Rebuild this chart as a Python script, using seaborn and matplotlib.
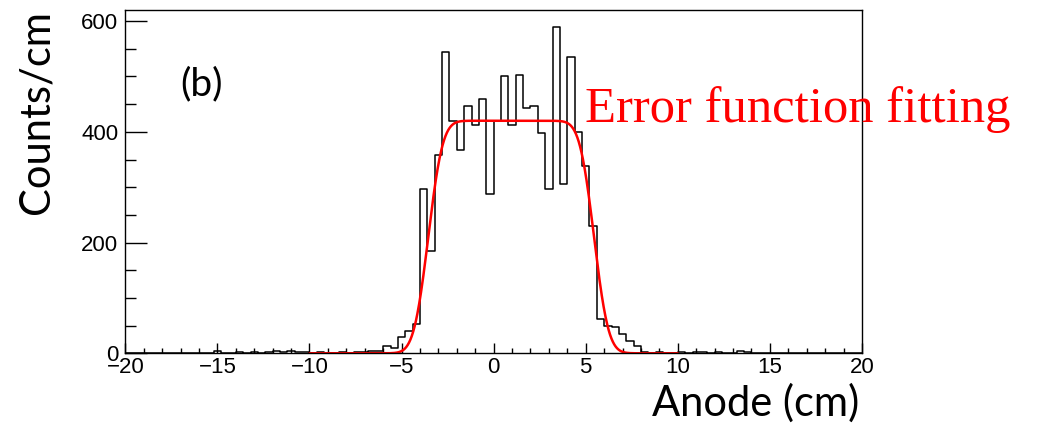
import math
import numpy as np
import pandas as pd
import matplotlib
matplotlib.use("Agg")
import matplotlib.pyplot as plt
from matplotlib.ticker import MultipleLocator
import seaborn as sns

# Anode position histogram: 100 bins of 0.4 cm from -20 to 20 cm, in counts/cm
bin_edges = [round(-20.0 + 0.4 * i, 2) for i in range(101)]
counts_per_cm = [
    0, 0, 0, 0, 0, 0, 0, 0, 0, 0, 0, 0,            # -20.0 .. -15.6
    5, 0, 0, 2.5, 0, 2.5, 0, 2.5, 5, 2.5,          # -15.2 .. -11.6
    5, 2.5, 2.5, 0, 2.5, 0, 0, 2.5, 0, 2.5,        # -11.2 .. -7.6
    2.5, 5, 5, 12.5, 10, 30, 40, 52.5,             # -7.2 .. -4.4
    297.5, 185, 357.5, 545, 420, 367.5, 447.5, 412.5, 460, 287.5,   # -4.0 .. -0.4
    420, 500, 412.5, 502.5, 442.5, 447.5, 397.5, 297.5, 590, 305,   # 0.0 .. 3.6
    535, 400, 337.5, 230, 62.5, 50, 47.5, 35, 22.5, 12.5,           # 4.0 .. 7.6
    2.5, 0, 2.5, 0, 0, 2.5, 0, 2.5, 2.5, 0,        # 8.0 .. 11.6
    2.5, 0, 0, 5, 2.5, 0, 0, 0, 0, 0,              # 12.0 .. 15.6
    0, 0, 0, 0, 0, 0, 0, 0, 0, 0,                  # 16.0 .. 19.6
]
bin_centers = [(a + b) / 2 for a, b in zip(bin_edges[:-1], bin_edges[1:])]

# Error-function fit parameters (plateau height, edges, edge widths)
fit_height = 420.0
fit_left_edge = -3.55
fit_right_edge = 5.45
fit_left_sigma = 0.62
fit_right_sigma = 0.62
fit_range = (-10.0, 10.0)

W, H = 1041, 426
sns.set_style("ticks")
plt.rcParams["font.family"] = ["Liberation Sans", "DejaVu Sans"]
plt.rcParams["axes.unicode_minus"] = True
plt.rcParams["text.color"] = "black"
plt.rcParams["xtick.color"] = "black"
plt.rcParams["ytick.color"] = "black"

fig = plt.figure(figsize=(W / 100, H / 100), dpi=100)
ax = fig.add_axes([125.3 / W, 1 - 353.3 / H, (862 - 125.3) / W, (353.3 - 10) / H])

hist_df = pd.DataFrame({"anode": bin_centers, "w": counts_per_cm})
sns.histplot(data=hist_df, x="anode", weights="w", bins=bin_edges,
             element="step", fill=False, color="black", linewidth=1.1, ax=ax)

xs = np.linspace(fit_range[0], fit_range[1], 800)
erf = np.vectorize(math.erf)
fit_vals = fit_height / 2 * (
    erf((xs - fit_left_edge) / (math.sqrt(2) * fit_left_sigma))
    - erf((xs - fit_right_edge) / (math.sqrt(2) * fit_right_sigma))
)
sns.lineplot(x=xs, y=fit_vals, color="red", linewidth=1.8, ax=ax)

ax.set_xlim(-20, 20)
ax.set_ylim(0, 620)
ax.set_xlabel("")
ax.set_ylabel("")

ax.xaxis.set_major_locator(MultipleLocator(5))
ax.xaxis.set_minor_locator(MultipleLocator(1))
ax.yaxis.set_major_locator(MultipleLocator(200))
ax.yaxis.set_minor_locator(MultipleLocator(50))
ax.tick_params(axis="x", which="major", direction="in", length=7, width=1, pad=3,
               labelsize=16, labelcolor="black", top=False)
ax.tick_params(axis="x", which="minor", direction="in", length=3.6, width=1, top=False)
ax.tick_params(axis="y", which="major", direction="in", length=15.8, width=1, pad=5,
               labelsize=16, labelcolor="black", right=False)
ax.tick_params(axis="y", which="minor", direction="in", length=7.9, width=1, right=False)
for side in ["left", "right", "top", "bottom"]:
    ax.spines[side].set_visible(True)
    ax.spines[side].set_color("black")
    ax.spines[side].set_linewidth(1.0)

def px(x, y):
    return x / W, 1 - y / H

fig.text(*px(37, 112), "Counts/cm", rotation=90, ha="center", va="center",
         fontsize=30, family=["Lato", "DejaVu Sans"])
fig.text(*px(756, 403), "Anode (cm)", ha="center", va="center",
         fontsize=30, family=["Lato", "DejaVu Sans"])
fig.text(*px(202, 84), "(b)", ha="center", va="center",
         fontsize=28, family=["Lato", "DejaVu Sans"])
fig.text(*px(798, 110), "Error function fitting", ha="center", va="center",
         fontsize=36.5, color="red", family=["Liberation Serif", "DejaVu Serif"])

fig.savefig("out.png", dpi=100, facecolor="white")
